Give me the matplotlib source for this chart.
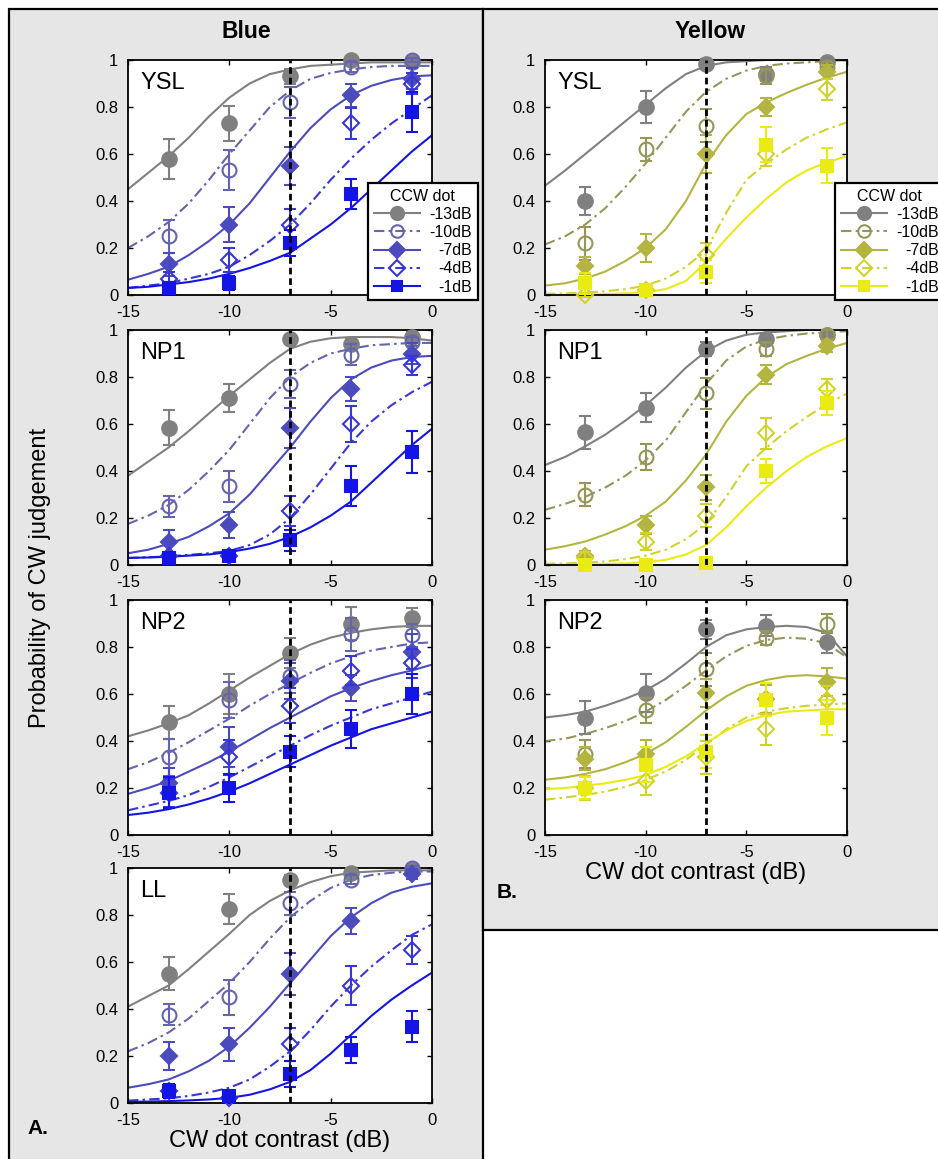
import matplotlib
matplotlib.use("Agg")
import matplotlib.pyplot as plt
from matplotlib.patches import Rectangle
from matplotlib.lines import Line2D

plt.rcParams['font.family'] = ['Liberation Sans', 'DejaVu Sans']

# contrast of the CW dot where data were measured, and where the fits were read
dot_x = [-13, -10, -7, -4, -1]
fit_x = [-15, -14, -13, -12, -11, -10, -9, -8, -7, -6, -5, -4, -3, -2, -1, 0]
ccw_labels = ['-13dB', '-10dB', '-7dB', '-4dB', '-1dB']

blue_colors = ['#808080', '#6464AF', '#4B4BBE', '#3737D7', '#1414E6']
yellow_colors = ['#808080', '#96965A', '#B4B441', '#D2D22D', '#EBEB14']

# ---- Blue / YSL
blue_ysl_pts = [[0.58, 0.73, 0.93, 1.00, 0.99],
                [0.25, 0.53, 0.82, 0.97, 1.00],
                [0.13, 0.30, 0.55, 0.85, 0.92],
                [0.07, 0.15, 0.30, 0.73, 0.90],
                [0.03, 0.05, 0.22, 0.43, 0.78]]
blue_ysl_err = [[0.085, 0.075, 0.03, 0.01, 0.01],
                [0.07, 0.085, 0.065, 0.02, 0.01],
                [0.05, 0.075, 0.08, 0.05, 0.045],
                [0.03, 0.05, 0.065, 0.065, 0.045],
                [0.025, 0.03, 0.055, 0.065, 0.085]]
blue_ysl_fit = [[0.45, 0.52, 0.59, 0.67, 0.76, 0.84, 0.90, 0.94, 0.96, 0.975, 0.98, 0.985, 0.99, 0.99, 0.99, 0.99],
                [0.20, 0.25, 0.31, 0.39, 0.49, 0.60, 0.70, 0.80, 0.87, 0.92, 0.945, 0.96, 0.97, 0.975, 0.975, 0.975],
                [0.065, 0.09, 0.12, 0.17, 0.23, 0.30, 0.39, 0.50, 0.61, 0.71, 0.79, 0.85, 0.89, 0.915, 0.93, 0.935],
                [0.03, 0.04, 0.05, 0.07, 0.09, 0.12, 0.17, 0.23, 0.30, 0.39, 0.49, 0.58, 0.66, 0.73, 0.79, 0.85],
                [0.03, 0.035, 0.045, 0.055, 0.07, 0.09, 0.115, 0.145, 0.18, 0.24, 0.30, 0.37, 0.45, 0.53, 0.61, 0.68]]

# ---- Blue / NP1
blue_np1_pts = [[0.585, 0.71, 0.96, 0.94, 0.97],
                [0.25, 0.335, 0.77, 0.895, 0.95],
                [0.10, 0.17, 0.585, 0.75, 0.90],
                [0.04, 0.04, 0.23, 0.60, 0.85],
                [0.03, 0.04, 0.105, 0.335, 0.48]]
blue_np1_err = [[0.075, 0.06, 0.02, 0.02, 0.02],
                [0.045, 0.065, 0.06, 0.045, 0.02],
                [0.05, 0.055, 0.085, 0.05, 0.045],
                [0.015, 0.015, 0.065, 0.075, 0.04],
                [0.02, 0.02, 0.045, 0.085, 0.09]]
blue_np1_fit = [[0.38, 0.44, 0.50, 0.57, 0.645, 0.72, 0.79, 0.86, 0.92, 0.95, 0.965, 0.97, 0.97, 0.97, 0.965, 0.955],
                [0.175, 0.21, 0.255, 0.32, 0.40, 0.49, 0.60, 0.71, 0.80, 0.86, 0.90, 0.92, 0.935, 0.94, 0.945, 0.945],
                [0.05, 0.065, 0.09, 0.12, 0.165, 0.22, 0.30, 0.40, 0.50, 0.61, 0.71, 0.79, 0.84, 0.87, 0.885, 0.89],
                [0.03, 0.033, 0.037, 0.043, 0.05, 0.06, 0.085, 0.13, 0.20, 0.30, 0.41, 0.52, 0.61, 0.68, 0.735, 0.78],
                [0.03, 0.032, 0.035, 0.04, 0.045, 0.055, 0.07, 0.09, 0.12, 0.16, 0.21, 0.27, 0.35, 0.43, 0.51, 0.58]]

# ---- Blue / NP2
blue_np2_pts = [[0.48, 0.60, 0.775, 0.90, 0.925],
                [0.33, 0.575, 0.675, 0.855, 0.85],
                [0.22, 0.375, 0.655, 0.625, 0.78],
                [0.18, 0.33, 0.55, 0.70, 0.73],
                [0.18, 0.20, 0.355, 0.45, 0.60]]
blue_np2_err = [[0.07, 0.085, 0.065, 0.07, 0.04],
                [0.08, 0.075, 0.07, 0.07, 0.05],
                [0.065, 0.085, 0.075, 0.055, 0.075],
                [0.06, 0.075, 0.075, 0.06, 0.06],
                [0.065, 0.06, 0.065, 0.08, 0.085]]
blue_np2_fit = [[0.42, 0.445, 0.475, 0.51, 0.56, 0.615, 0.67, 0.72, 0.77, 0.81, 0.84, 0.86, 0.875, 0.885, 0.89, 0.89],
                [0.28, 0.31, 0.35, 0.395, 0.445, 0.495, 0.55, 0.60, 0.645, 0.69, 0.73, 0.76, 0.785, 0.80, 0.815, 0.82],
                [0.175, 0.20, 0.23, 0.27, 0.31, 0.355, 0.405, 0.455, 0.50, 0.545, 0.59, 0.625, 0.655, 0.68, 0.70, 0.725],
                [0.105, 0.125, 0.145, 0.17, 0.205, 0.245, 0.29, 0.335, 0.38, 0.425, 0.465, 0.50, 0.535, 0.56, 0.585, 0.61],
                [0.085, 0.095, 0.11, 0.13, 0.155, 0.185, 0.22, 0.26, 0.30, 0.34, 0.38, 0.415, 0.45, 0.475, 0.50, 0.525]]

# ---- Blue / LL
blue_ll_pts = [[0.55, 0.825, 0.95, 0.98, 0.99],
               [0.375, 0.45, 0.85, 0.95, 1.00],
               [0.20, 0.25, 0.55, 0.775, 0.975],
               [0.05, 0.02, 0.25, 0.50, 0.65],
               [0.05, 0.03, 0.125, 0.225, 0.325]]
blue_ll_err = [[0.07, 0.065, 0.02, 0.02, 0.01],
               [0.045, 0.075, 0.05, 0.02, 0.01],
               [0.06, 0.07, 0.09, 0.055, 0.02],
               [0.02, 0.01, 0.07, 0.085, 0.06],
               [0.03, 0.02, 0.055, 0.055, 0.065]]
blue_ll_fit = [[0.41, 0.455, 0.50, 0.57, 0.645, 0.72, 0.80, 0.86, 0.905, 0.94, 0.965, 0.98, 0.985, 0.99, 0.99, 0.99],
               [0.22, 0.255, 0.30, 0.36, 0.435, 0.51, 0.60, 0.70, 0.79, 0.86, 0.915, 0.95, 0.97, 0.98, 0.985, 0.985],
               [0.065, 0.08, 0.10, 0.135, 0.18, 0.24, 0.32, 0.41, 0.51, 0.61, 0.71, 0.79, 0.85, 0.895, 0.92, 0.935],
               [0.01, 0.015, 0.02, 0.03, 0.045, 0.065, 0.10, 0.155, 0.22, 0.31, 0.41, 0.50, 0.58, 0.65, 0.715, 0.76],
               [0.005, 0.006, 0.008, 0.011, 0.015, 0.022, 0.035, 0.058, 0.09, 0.14, 0.21, 0.29, 0.37, 0.44, 0.50, 0.555]]

# ---- Yellow / YSL
yellow_ysl_pts = [[0.40, 0.80, 0.985, 0.94, 0.99],
                  [0.22, 0.62, 0.72, 0.93, 0.97],
                  [0.125, 0.20, 0.60, 0.80, 0.95],
                  [0.00, 0.02, 0.17, 0.60, 0.875],
                  [0.05, 0.02, 0.10, 0.64, 0.55]]
yellow_ysl_err = [[0.06, 0.07, 0.02, 0.03, 0.01],
                  [0.07, 0.05, 0.07, 0.03, 0.02],
                  [0.035, 0.06, 0.08, 0.04, 0.03],
                  [0.01, 0.02, 0.05, 0.05, 0.045],
                  [0.045, 0.02, 0.05, 0.075, 0.075]]
yellow_ysl_fit = [[0.465, 0.53, 0.60, 0.67, 0.74, 0.81, 0.88, 0.94, 0.975, 0.99, 0.995, 1.0, 1.0, 1.0, 1.0, 1.0],
                  [0.215, 0.25, 0.30, 0.37, 0.46, 0.56, 0.67, 0.78, 0.865, 0.92, 0.955, 0.975, 0.985, 0.99, 0.995, 1.0],
                  [0.04, 0.05, 0.07, 0.10, 0.145, 0.20, 0.28, 0.40, 0.56, 0.68, 0.77, 0.82, 0.86, 0.895, 0.925, 0.95],
                  [0.005, 0.007, 0.01, 0.016, 0.025, 0.04, 0.07, 0.12, 0.19, 0.35, 0.49, 0.56, 0.62, 0.67, 0.705, 0.735],
                  [0.0, 0.001, 0.002, 0.004, 0.007, 0.012, 0.025, 0.06, 0.14, 0.24, 0.33, 0.41, 0.48, 0.53, 0.565, 0.59]]

# ---- Yellow / NP1
yellow_np1_pts = [[0.565, 0.67, 0.92, 0.96, 0.98],
                  [0.30, 0.46, 0.73, 0.92, 0.98],
                  [0.04, 0.17, 0.33, 0.81, 0.93],
                  [0.03, 0.10, 0.21, 0.56, 0.75],
                  [0.0, 0.0, 0.01, 0.40, 0.69]]
yellow_np1_err = [[0.07, 0.06, 0.03, 0.02, 0.01],
                  [0.05, 0.055, 0.065, 0.03, 0.02],
                  [0.02, 0.04, 0.055, 0.04, 0.025],
                  [0.025, 0.035, 0.05, 0.065, 0.04],
                  [0.01, 0.01, 0.01, 0.05, 0.05]]
yellow_np1_fit = [[0.425, 0.46, 0.505, 0.555, 0.615, 0.68, 0.755, 0.84, 0.91, 0.955, 0.98, 0.99, 0.995, 1.0, 1.0, 1.0],
                  [0.235, 0.26, 0.29, 0.33, 0.38, 0.445, 0.53, 0.65, 0.77, 0.87, 0.93, 0.96, 0.975, 0.985, 0.99, 0.995],
                  [0.065, 0.08, 0.10, 0.13, 0.165, 0.21, 0.27, 0.36, 0.47, 0.61, 0.72, 0.80, 0.855, 0.89, 0.92, 0.945],
                  [0.005, 0.007, 0.01, 0.015, 0.025, 0.04, 0.065, 0.11, 0.175, 0.29, 0.42, 0.50, 0.57, 0.63, 0.685, 0.73],
                  [0.0, 0.001, 0.002, 0.004, 0.007, 0.012, 0.022, 0.045, 0.085, 0.16, 0.25, 0.33, 0.40, 0.46, 0.505, 0.54]]

# ---- Yellow / NP2
yellow_np2_pts = [[0.50, 0.605, 0.875, 0.89, 0.82],
                  [0.345, 0.53, 0.705, 0.84, 0.90],
                  [0.325, 0.345, 0.605, 0.58, 0.65],
                  [0.20, 0.23, 0.33, 0.45, 0.575],
                  [0.20, 0.30, 0.355, 0.575, 0.50]]
yellow_np2_err = [[0.07, 0.08, 0.04, 0.045, 0.045],
                  [0.06, 0.055, 0.07, 0.03, 0.04],
                  [0.05, 0.06, 0.06, 0.06, 0.06],
                  [0.05, 0.06, 0.07, 0.065, 0.06],
                  [0.045, 0.075, 0.07, 0.07, 0.075]]
yellow_np2_fit = [[0.50, 0.51, 0.525, 0.55, 0.58, 0.615, 0.665, 0.73, 0.80, 0.85, 0.875, 0.885, 0.89, 0.885, 0.86, 0.76],
                  [0.40, 0.41, 0.43, 0.455, 0.485, 0.525, 0.575, 0.635, 0.70, 0.76, 0.805, 0.83, 0.84, 0.835, 0.815, 0.755],
                  [0.235, 0.245, 0.26, 0.28, 0.31, 0.345, 0.395, 0.46, 0.53, 0.59, 0.635, 0.66, 0.675, 0.68, 0.675, 0.665],
                  [0.15, 0.16, 0.17, 0.185, 0.205, 0.235, 0.27, 0.32, 0.385, 0.45, 0.50, 0.525, 0.54, 0.55, 0.555, 0.56],
                  [0.195, 0.20, 0.21, 0.22, 0.235, 0.255, 0.29, 0.335, 0.39, 0.445, 0.485, 0.51, 0.525, 0.53, 0.535, 0.535]]

line_styles = ['-', (0, (5, 2, 1.2, 2)), '-', (0, (5, 2, 1.2, 2)), '-']
marker_shapes = ['o', 'o', 'D', 'D', 's']
marker_filled = [True, False, True, False, True]
marker_sizes = [10.5, 10, 8.5, 8.5, 8.5]

W, H = 938, 1159
fig = plt.figure(figsize=(W / 100, H / 100), dpi=100)

# grey panel backgrounds with black borders
fig.add_artist(Rectangle((9 / W, -0.02), (483 - 9) / W, 1.02 - 9 / H, transform=fig.transFigure,
                         facecolor='#e6e6e6', edgecolor='black', lw=1.6, zorder=-10))
fig.add_artist(Rectangle((483 / W, 1 - 930 / H), 0.02 + (W - 483) / W, (930 - 9) / H, transform=fig.transFigure,
                         facecolor='#e6e6e6', edgecolor='black', lw=1.6, zorder=-10))


def make_axes(left_px, right_px, top_px, bottom_px):
    return fig.add_axes([left_px / W, 1 - bottom_px / H, (right_px - left_px) / W, (bottom_px - top_px) / H])


def draw_panel(ax, pts, errs, fits, colors, name):
    for i in range(5):
        ax.plot(fit_x, fits[i], color=colors[i], ls=line_styles[i], lw=1.5, zorder=2)
    for i in range(5):
        face = colors[i] if marker_filled[i] else 'none'
        ax.errorbar(dot_x, pts[i], yerr=errs[i], fmt=marker_shapes[i], color=colors[i],
                    mfc=face, mec=colors[i], mew=1.5, ms=marker_sizes[i],
                    elinewidth=1.5, capsize=4, capthick=1.5, zorder=4 + i, clip_on=False)
    ax.axvline(-7, color='black', ls=(0, (2.4, 1.4)), lw=2.0, zorder=20)
    ax.set_xlim(-15, 0)
    ax.set_ylim(0, 1)
    ax.set_xticks([-15, -10, -5, 0])
    ax.set_xticklabels(['-15', '-10', '-5', '0'])
    ax.set_yticks([0, 0.2, 0.4, 0.6, 0.8, 1])
    ax.set_yticklabels(['0', '0.2', '0.4', '0.6', '0.8', '1'])
    ax.tick_params(direction='in', top=True, right=True, length=3.5, width=1,
                   labelsize=12, pad=7)
    for s in ax.spines.values():
        s.set_linewidth(1.3)
    ax.text(0.04, 0.95, name, transform=ax.transAxes, fontsize=17, va='top', ha='left', zorder=30)


blue_rows = [(60, 295), (330, 565), (600, 835), (868, 1103)]
blue_data = [(blue_ysl_pts, blue_ysl_err, blue_ysl_fit, 'YSL'),
             (blue_np1_pts, blue_np1_err, blue_np1_fit, 'NP1'),
             (blue_np2_pts, blue_np2_err, blue_np2_fit, 'NP2'),
             (blue_ll_pts, blue_ll_err, blue_ll_fit, 'LL')]
for (top, bot), (p, e, f, n) in zip(blue_rows, blue_data):
    ax = make_axes(128, 432, top, bot)
    draw_panel(ax, p, e, f, blue_colors, n)
    if n == 'LL':
        ax.set_xlabel('CW dot contrast (dB)', fontsize=17, labelpad=2)

yellow_data = [(yellow_ysl_pts, yellow_ysl_err, yellow_ysl_fit, 'YSL'),
               (yellow_np1_pts, yellow_np1_err, yellow_np1_fit, 'NP1'),
               (yellow_np2_pts, yellow_np2_err, yellow_np2_fit, 'NP2')]
for (top, bot), (p, e, f, n) in zip(blue_rows[:3], yellow_data):
    ax = make_axes(545, 847, top, bot)
    draw_panel(ax, p, e, f, yellow_colors, n)
    if n == 'NP2':
        ax.set_xlabel('CW dot contrast (dB)', fontsize=17, labelpad=2)

fig.text(246 / W, 1 - 32 / H, 'Blue', fontsize=16.5, fontweight='bold', ha='center', va='center')
fig.text(710 / W, 1 - 32 / H, 'Yellow', fontsize=16.5, fontweight='bold', ha='center', va='center')
fig.text(40 / W, 1 - 578 / H, 'Probability of CW judgement', fontsize=17, rotation=90,
         ha='center', va='center')
fig.text(27 / W, 1 - 1128 / H, 'A.', fontsize=15, fontweight='bold', ha='left', va='center')
fig.text(497 / W, 1 - 893 / H, 'B.', fontsize=15, fontweight='bold', ha='left', va='center')


def add_legend(colors, left_px, top_px):
    handles = []
    for i in range(5):
        face = colors[i] if marker_filled[i] else 'none'
        handles.append(Line2D([], [], color=colors[i], ls=line_styles[i], lw=1.5,
                              marker=marker_shapes[i], mfc=face, mec=colors[i], mew=1.5,
                              ms=marker_sizes[i] * 0.9))
    leg = fig.legend(handles, ccw_labels, title='CCW dot', loc='upper left',
                     bbox_to_anchor=(left_px / W, 1 - top_px / H), bbox_transform=fig.transFigure,
                     fontsize=11.5, title_fontsize=11.5, frameon=True, fancybox=False,
                     edgecolor='black', framealpha=1, facecolor='white', borderaxespad=0,
                     handlelength=2.9, handletextpad=0.6, labelspacing=0.2, borderpad=0.35)
    leg.get_frame().set_linewidth(1.6)
    leg.set_zorder(50)
    # right-align the entry texts as in the original legend
    renderer = fig.canvas.get_renderer()
    widths = [t.get_window_extent(renderer).width for t in leg.get_texts()]
    mw = max(widths)
    for t, w in zip(leg.get_texts(), widths):
        t.set_position((mw - w, 0))
    return leg


add_legend(blue_colors, 368, 183)
add_legend(yellow_colors, 835, 183)

fig.savefig('out.png', dpi=100)
